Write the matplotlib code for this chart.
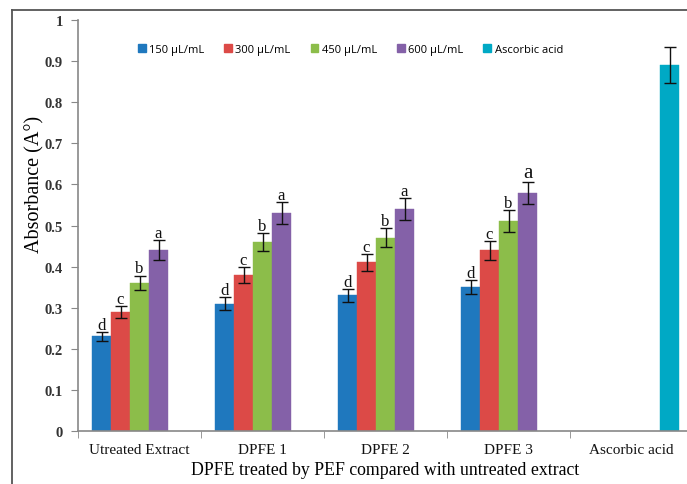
import numpy as np
import matplotlib
matplotlib.use("Agg")
import matplotlib.pyplot as plt
from matplotlib.patches import Rectangle
from matplotlib.lines import Line2D

categories = ["Utreated Extract", "DPFE 1", "DPFE 2", "DPFE 3", "Ascorbic acid"]
series = ["150 µL/mL", "300 µL/mL", "450 µL/mL", "600 µL/mL", "Ascorbic acid"]
colors = ["#1f78be", "#dc4a47", "#8cbd4a", "#8461a8", "#00a9c5"]

# rows = series, cols = categories
values = [
    [0.23, 0.31, 0.33, 0.35, 0],
    [0.29, 0.38, 0.41, 0.44, 0],
    [0.36, 0.46, 0.47, 0.51, 0],
    [0.44, 0.53, 0.54, 0.58, 0],
    [0, 0, 0, 0, 0.89],
]
errors = [
    [0.010, 0.015, 0.016, 0.017, 0],
    [0.014, 0.019, 0.020, 0.023, 0],
    [0.018, 0.022, 0.023, 0.027, 0],
    [0.024, 0.027, 0.027, 0.027, 0],
    [0, 0, 0, 0, 0.044],
]
letters = ["d", "c", "b", "a"]

serif = "Liberation Serif"
fig = plt.figure(figsize=(6.87, 4.85), dpi=100)
ax = fig.add_axes([78/687, 53/485, 615/687, 411/485])

# outer frame (cropped on right/bottom)
fig.add_artist(Line2D([12/687, 1.0], [1 - 11/485]*2, color="#555555", lw=1.3,
                      transform=fig.transFigure))
fig.add_artist(Line2D([12/687]*2, [0, 1 - 11/485], color="#555555", lw=1.3,
                      transform=fig.transFigure))

x = np.arange(len(categories))
w = 19/123
for i, s in enumerate(series):
    off = (i - 2) * w
    for j in range(len(categories)):
        v = values[i][j]
        if v == 0:
            continue
        ax.bar(x[j] + off, v, w, color=colors[i], edgecolor=colors[i], lw=0.3)
        ax.errorbar(x[j] + off, v, yerr=errors[i][j], fmt="none", ecolor="#111111",
                    elinewidth=1.0, capsize=4, capthick=1.0)
        if i < 4:
            fs = 15 if (j == 3 and i == 3) else 12
            ax.text(x[j] + off, v + errors[i][j] - 0.002, letters[i], ha="center",
                    va="bottom", fontsize=fs, family=serif, color="#111111")

ax.set_xlim(-0.5, 4.5)
ax.set_ylim(0, 1)
ax.set_yticks(np.arange(0, 1.01, 0.1))
ax.set_yticklabels(["0"] + [f"{t:.1f}" for t in np.arange(0.1, 0.95, 0.1)] + ["1"],
                   family=serif, fontsize=10.5, fontweight="bold", color="#333333")
ax.set_xticks(x)
ax.set_xticklabels(categories, family=serif, fontsize=11, color="#111111")
ax.tick_params(axis="x", which="major", length=0, pad=9)
ax.set_xticks(np.arange(-0.5, 4.6, 1), minor=True)
ax.tick_params(axis="x", which="minor", length=5, color="#888888", direction="out")
ax.tick_params(axis="y", length=5, color="#888888", direction="out", pad=6)

for sp in ["top", "right"]:
    ax.spines[sp].set_visible(False)
for sp in ["left", "bottom"]:
    ax.spines[sp].set_color("#888888")
    ax.spines[sp].set_linewidth(1.2)

ax.set_ylabel("Absorbance (A°)", family=serif, fontsize=14.5)
ax.yaxis.set_label_coords(-0.055, 0.603)
ax.set_xlabel("DPFE treated by PEF compared with untreated extract",
              family=serif, fontsize=12.8, labelpad=3)

handles = [Rectangle((0, 0), 1, 1, color=c) for c in colors]
leg = ax.legend(handles, series, loc="center", bbox_to_anchor=(0.443, 0.929),
                ncol=5, frameon=False, handlelength=0.7,
                handleheight=0.7, handletextpad=0.3, columnspacing=1.8,
                prop={"family": "Open Sans", "size": 8})

fig.savefig("out.png", dpi=100, facecolor="white")
